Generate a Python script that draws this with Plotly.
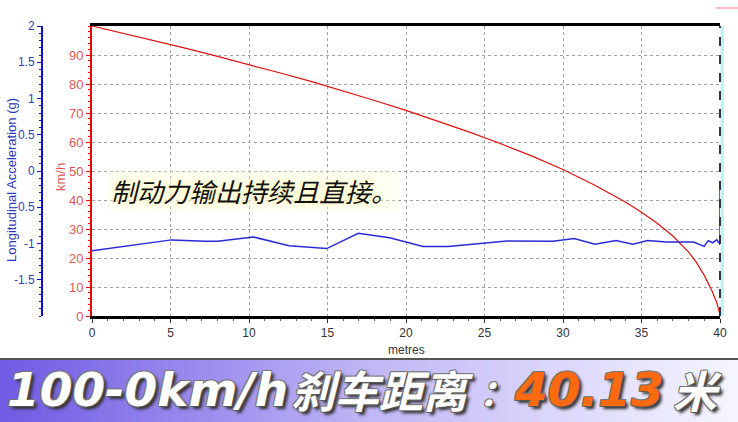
import plotly.graph_objects as go

# ---------------- data ----------------
dist_speed = [0, 2, 4, 6, 8, 10, 12, 14, 16, 18, 20, 22, 24, 26, 28, 30, 32, 34, 35, 36, 37, 38, 38.5, 39, 39.5, 39.8, 40]
speed_kmh = [100, 97.5, 94.9, 92.3, 89.5, 86.7, 83.8, 80.8, 77.6, 74.3, 70.9, 67.3, 63.5, 59.5, 55.2, 50.5, 45.2, 39.2, 35.8, 32.0, 27.6, 22.0, 18.5, 14.0, 8.5, 4.5, 0.5]

dist_acc = [0, 5.07, 7.2, 8.0, 10.28, 12.55, 14.95, 16.96, 18.96, 21.09, 22.7, 24.97, 26.43, 29.37, 30.71,
            32.04, 33.38, 34.45, 35.38, 36.58, 38.32, 38.99, 39.25, 39.52, 39.79, 39.97, 40.0, 40.0]
acc_g = [-1.10, -0.95, -0.97, -0.97, -0.91, -1.03, -1.07, -0.86, -0.92, -1.04, -1.04, -1.0, -0.965, -0.97, -0.93,
         -1.01, -0.96, -1.01, -0.96, -0.98, -0.98, -1.04, -0.96, -0.99, -0.95, -1.0, -1.02, -0.17]

x_ticks = [0, 5, 10, 15, 20, 25, 30, 35, 40]
speed_ticks = [0, 10, 20, 30, 40, 50, 60, 70, 80, 90]
acc_ticks = [-1.5, -1, -0.5, 0, 0.5, 1, 1.5, 2]
acc_tick_text = ["-1.5", "-1", "-0.5", "0", "0.5", "1", "1.5", "2"]

note_text = "制动力输出持续且直接。"
banner_a = "100-0km/h"
banner_b = "刹车距离"
banner_colon = "："
banner_value = "40.13"
banner_unit = "米"

W, H = 738, 422
FONT = "Liberation Sans, Arial, sans-serif"
CJK = "Noto Sans CJK SC, sans-serif"
HEAVY = "DejaVu Sans, Liberation Sans, sans-serif"

fig = go.Figure()

fig.add_trace(go.Scatter(x=dist_speed, y=speed_kmh, mode="lines",
                         line=dict(color="#e01010", width=1.2), yaxis="y", showlegend=False))
fig.add_trace(go.Scatter(x=dist_acc, y=acc_g, mode="lines",
                         line=dict(color="#2a2ad8", width=1.5), yaxis="y2", showlegend=False))

x0, x1 = 92 / W, 720 / W
y0, y1 = (H - 316) / H, (H - 26) / H
GRID = dict(showgrid=True, gridcolor="#a0a0a0", griddash="3px,3px", gridwidth=1)

fig.update_layout(
    template="none",
    width=W, height=H,
    margin=dict(l=0, r=0, t=0, b=0, autoexpand=False),
    paper_bgcolor="white", plot_bgcolor="white",
    showlegend=False,
    font=dict(family=FONT, size=12, color="#333"),
    xaxis=dict(domain=[x0, x1], range=[0, 40], tickvals=x_ticks, automargin=False, **GRID,
               showline=True, linecolor="black", linewidth=3, mirror=True,
               ticks="outside", ticklen=4, tickcolor="#333",
               minor=dict(dtick=1, ticks="outside", ticklen=2, tickcolor="#555", showgrid=False),
               tickfont=dict(size=12, color="#333"), zeroline=False),
    yaxis=dict(domain=[y0, y1], range=[0, 100], tickvals=speed_ticks, automargin=False, **GRID,
               showline=True, linecolor="#ee0000", linewidth=2,
               ticks="outside", ticklen=4, tickcolor="#ee0000",
               minor=dict(dtick=2, ticks="outside", ticklen=2, tickcolor="#ee0000", showgrid=False),
               tickfont=dict(size=13, color="#e05858"), zeroline=False),
    yaxis2=dict(domain=[y0, y1], range=[-2, 2], overlaying="y", side="left", anchor="free",
                position=42 / W, tickvals=acc_ticks, ticktext=acc_tick_text, automargin=False,
                showgrid=False, showline=True, linecolor="#1010cc", linewidth=2,
                ticks="outside", ticklen=4, tickcolor="#1010cc",
                minor=dict(dtick=0.1, ticks="outside", ticklen=2, tickcolor="#1010cc", showgrid=False),
                tickfont=dict(size=12, color="#3040b8"), zeroline=False),
)

shapes = []
shapes.append(dict(type="rect", xref="paper", yref="paper", x0=720.5 / W, x1=724 / W, y0=y0, y1=y1,
                   fillcolor="#bff3f3", line=dict(width=0), layer="below"))
shapes.append(dict(type="line", xref="paper", yref="paper", x0=720 / W, x1=720 / W, y0=y0, y1=y1,
                   line=dict(color="#334", width=2, dash="dash")))
shapes.append(dict(type="line", xref="paper", yref="paper", x0=716 / W, x1=738 / W, y0=(H - 8) / H, y1=(H - 8) / H,
                   line=dict(color="#f08080", width=1)))

# banner gradient
top_b = (H - 359) / H
n = 90
c_stops = [(0.0, (112, 90, 228)), (0.5, (192, 182, 246)), (1.0, (246, 246, 255))]
def col(t):
    for (ta, ca), (tb, cb) in zip(c_stops[:-1], c_stops[1:]):
        if ta <= t <= tb:
            f = (t - ta) / (tb - ta)
            return "rgb(%d,%d,%d)" % tuple(round(a + (b - a) * f) for a, b in zip(ca, cb))
    return "rgb(246,246,255)"
for i in range(n):
    shapes.append(dict(type="rect", xref="paper", yref="paper", x0=i / n, x1=(i + 1) / n + 0.002,
                       y0=0, y1=top_b, fillcolor=col((i + 0.5) / n), line=dict(width=0), layer="below"))
shapes.append(dict(type="line", xref="paper", yref="paper", x0=0, x1=1, y0=top_b, y1=top_b,
                   line=dict(color="#555", width=2)))
fig.update_layout(shapes=shapes)

ann = []
ann.append(dict(text="Longitudinal Acceleration (g)", xref="paper", yref="paper", x=12 / W, y=(H - 180) / H,
                textangle=-90, showarrow=False, font=dict(family=FONT, size=13, color="#2838b8"),
                xanchor="center", yanchor="middle"))
ann.append(dict(text="km/h", xref="paper", yref="paper", x=61 / W, y=(H - 177) / H,
                textangle=-90, showarrow=False, font=dict(family=FONT, size=13, color="#e05858"),
                xanchor="center", yanchor="middle"))
ann.append(dict(text="metres", xref="paper", yref="paper", x=406 / W, y=(H - 350) / H,
                showarrow=False, font=dict(family=FONT, size=12, color="#333"),
                xanchor="center", yanchor="middle"))
ann.append(dict(text="<i>" + note_text + "</i>", xref="paper", yref="paper", x=254 / W, y=(H - 191) / H,
                showarrow=False, xanchor="center", yanchor="middle",
                font=dict(family=CJK, size=26, color="#111",
                          shadow="0 0 4px #fffbd0, 0 0 8px #fff8c0, 0 0 12px #fff8c0"),
                bgcolor="rgba(255,252,215,0.3)"))

SH = "1px 1px 0 #555, -1px -1px 0 #777, 1px -1px 0 #777, -1px 1px 0 #777, 3px 3px 3px #333"
by = (H - 389) / H
def banner(text, xl, family, size, color):
    ann.append(dict(text="<b><i>" + text + "</i></b>", xref="paper", yref="paper", x=xl / W, y=by,
                    showarrow=False, xanchor="left", yanchor="middle", borderpad=0,
                    font=dict(family=family, size=size, color=color, shadow=SH)))
banner(banner_a, 6, HEAVY, 47, "white")
banner(banner_b, 290, CJK, 44, "white")
banner("<span style='font-family:Noto Sans CJK SC;font-size:36px'>" + banner_colon + "</span>"
       + "<span style='color:#ff6a10'>" + banner_value + "</span>", 478, HEAVY, 47, "white")
banner(banner_unit, 672, CJK, 44, "white")
fig.update_layout(annotations=ann)

fig.write_html("out.html", config={"displayModeBar": False},
               post_script="document.body.style.margin='0';document.body.style.padding='0';")
